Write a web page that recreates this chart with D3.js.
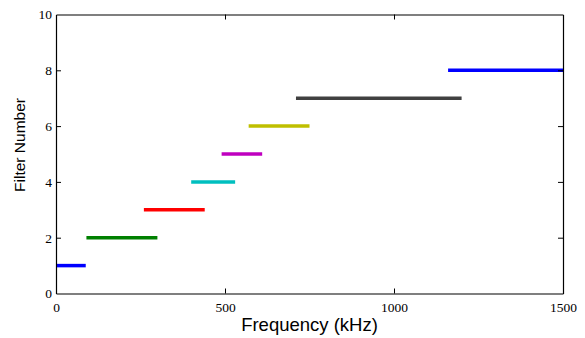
<!DOCTYPE html>
<html>
<head>
<meta charset="utf-8">
<script src="https://cdn.jsdelivr.net/npm/d3@7"></script>
<style>
body { margin: 0; background: #fff; }
</style>
</head>
<body>
<div class="canva"></div>
<script>
// filter bands (kHz) and filter index
const filters = [1, 2, 3, 4, 5, 6, 7, 8];
const bandStart = [0, 90, 260, 400, 490, 570, 710, 1160];
const bandEnd = [88, 300, 440, 530, 610, 750, 1200, 1500];
const colors = ["#0000ff", "#008000", "#ff0000", "#00bfbf", "#bf00bf", "#bfbf00", "#404040", "#0000ff"];
const xTicks = [0, 500, 1000, 1500];
const yTicks = [0, 2, 4, 6, 8, 10];

const width = 585, height = 338;
const plotL = 56, plotR = 563, plotT = 14.5, plotB = 293.5;

const svg = d3.select(".canva").append("svg")
  .attr("width", width)
  .attr("height", height);

const x = d3.scaleLinear().domain([0, 1500]).range([plotL, plotR]);
const y = d3.scaleLinear().domain([0, 10]).range([plotB, plotT]);

// segments
svg.selectAll("line.band")
  .data(filters)
  .enter().append("line")
  .attr("class", "band")
  .attr("x1", (d, i) => x(bandStart[i]))
  .attr("x2", (d, i) => x(bandEnd[i]))
  .attr("y1", d => y(d))
  .attr("y2", d => y(d))
  .attr("stroke", (d, i) => colors[i])
  .attr("stroke-width", 3.5);

// axes, ticks pointing inward, box style
const tickFont = "'Liberation Serif', 'Times New Roman', serif";

const bottomAxis = svg.append("g")
  .attr("transform", `translate(0,${plotB})`)
  .call(d3.axisBottom(x).tickValues(xTicks).tickFormat(d3.format("d")).tickSize(-5).tickPadding(9).tickSizeOuter(0));
const topAxis = svg.append("g")
  .attr("transform", `translate(0,${plotT})`)
  .call(d3.axisTop(x).tickValues(xTicks).tickSize(-5).tickFormat("").tickSizeOuter(0));
const leftAxis = svg.append("g")
  .attr("transform", `translate(${plotL},0)`)
  .call(d3.axisLeft(y).tickValues(yTicks).tickSize(-5).tickPadding(4).tickSizeOuter(0));
const rightAxis = svg.append("g")
  .attr("transform", `translate(${plotR},0)`)
  .call(d3.axisRight(y).tickValues(yTicks).tickSize(-5).tickFormat("").tickSizeOuter(0));

[bottomAxis, topAxis, leftAxis, rightAxis].forEach(a => {
  a.select(".domain").attr("stroke", "#000").attr("stroke-width", 1.2);
  a.selectAll(".tick line").attr("stroke", "#000");
  a.selectAll(".tick text")
    .attr("fill", "#000")
    .attr("font-family", tickFont)
    .attr("font-size", 13.5);
});
// hide end ticks that overlap the frame
bottomAxis.selectAll(".tick line").filter(d => d === 0 || d === 1500).remove();
topAxis.selectAll(".tick line").filter(d => d === 0 || d === 1500).remove();
leftAxis.selectAll(".tick line").filter(d => d === 0 || d === 10).remove();
rightAxis.selectAll(".tick line").filter(d => d === 0 || d === 10).remove();

// axis labels
svg.append("text")
  .text("Frequency (kHz)")
  .attr("x", (plotL + plotR) / 2)
  .attr("y", 331)
  .attr("text-anchor", "middle")
  .attr("font-family", "'Liberation Sans', Arial, sans-serif")
  .attr("font-size", 18.5)
  .attr("fill", "#000");

svg.append("text")
  .text("Filter Number")
  .attr("transform", "translate(25,145) rotate(-90)")
  .attr("text-anchor", "middle")
  .attr("font-family", "'Liberation Sans', Arial, sans-serif")
  .attr("font-size", 15.5)
  .attr("fill", "#000");
</script>
</body>
</html>
